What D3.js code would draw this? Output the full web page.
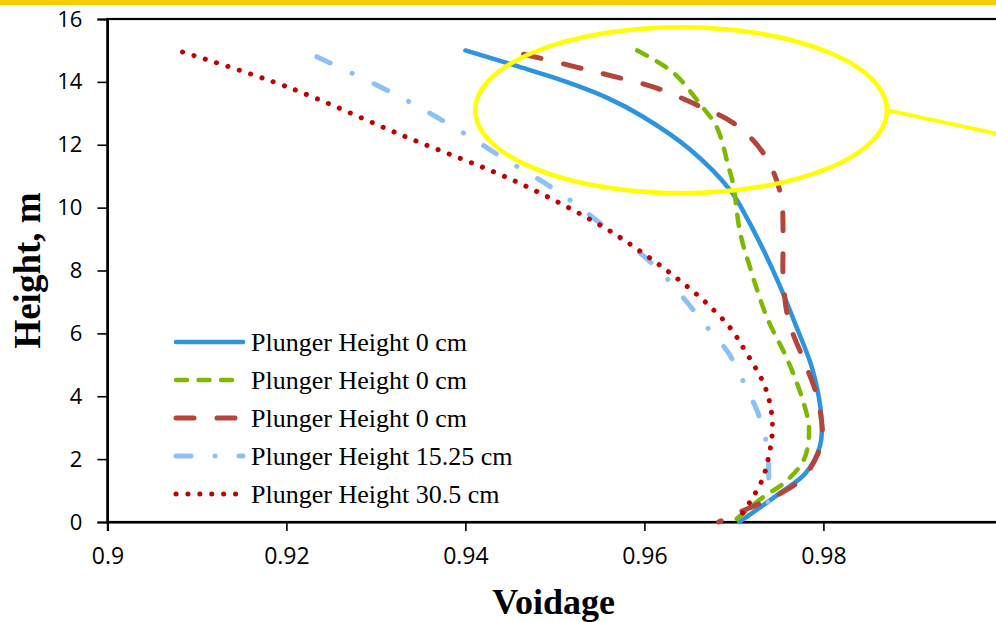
<!DOCTYPE html>
<html>
<head>
<meta charset="utf-8">
<script src="https://cdn.jsdelivr.net/npm/d3@7"></script>
<style>
  html, body { margin: 0; padding: 0; background: #fff; overflow: hidden; }
  svg { display: block; }
</style>
</head>
<body>
<svg id="chart" width="996" height="622"></svg>
<script>
// Voidage profiles along the column height, one series per plunger setting
const seriesNames = [
  "Plunger Height 0 cm",
  "Plunger Height 0 cm",
  "Plunger Height 0 cm",
  "Plunger Height 15.25 cm",
  "Plunger Height 30.5 cm"
];

// [voidage, height in m]
const blueSolid = [
  [0.9400, 15.0], [0.9458, 14.5], [0.9513, 14.0], [0.9558, 13.5], [0.9598, 12.9],
  [0.9651, 11.85], [0.9696, 10.55], [0.9714, 9.7], [0.9733, 8.65], [0.9750, 7.6],
  [0.9770, 6.2], [0.9788, 4.83], [0.9798, 3.25], [0.9796, 2.4], [0.9780, 1.55],
  [0.9751, 0.91], [0.9706, 0.0]
];
const greenDash = [
  [0.9592, 15.0], [0.9632, 14.3], [0.9662, 13.3], [0.9681, 12.55], [0.9694, 11.3],
  [0.9699, 10.77], [0.9707, 9.2], [0.9718, 8.1], [0.9737, 6.5], [0.9760, 5.15],
  [0.9778, 3.78], [0.9784, 2.93], [0.9778, 1.97], [0.9756, 1.24], [0.9733, 0.8],
  [0.9699, 0.0]
];
const brownLongDash = [
  [0.9465, 14.88], [0.9524, 14.47], [0.9569, 14.15], [0.9614, 13.8], [0.9659, 13.26],
  [0.9700, 12.68], [0.9733, 11.73], [0.9752, 10.46], [0.9755, 9.2], [0.9755, 7.8],
  [0.9761, 6.42], [0.9778, 5.15], [0.9793, 3.98], [0.9799, 2.83], [0.9797, 2.4],
  [0.9778, 1.43], [0.9745, 0.8], [0.9707, 0.32], [0.9683, 0.0]
];
const lightBlueDashDot = [
  [0.9234, 14.8], [0.9319, 13.64], [0.9383, 12.63], [0.9442, 11.58], [0.9506, 10.46],
  [0.9565, 9.19], [0.9595, 8.56], [0.9625, 7.75], [0.9670, 6.2], [0.9694, 5.37],
  [0.9715, 4.2], [0.9727, 3.46], [0.9737, 2.4], [0.9739, 1.34], [0.9737, 0.0]
];
const redDotted = [
  [0.9084, 14.95], [0.9201, 13.84], [0.9331, 12.28], [0.9458, 10.81], [0.9556, 9.35],
  [0.9603, 8.46], [0.9636, 7.76], [0.9668, 7.0], [0.9696, 6.17], [0.9712, 5.47],
  [0.9733, 4.42], [0.9741, 3.66], [0.9743, 2.89], [0.9739, 2.1], [0.9732, 1.37],
  [0.9718, 0.64], [0.9703, 0.0]
];

const xTicks = [0.9, 0.92, 0.94, 0.96, 0.98, 1];
const yTicks = [0, 2, 4, 6, 8, 10, 12, 14, 16];

// Highlight ellipse around the top of the column, in data units, plus its callout line
const highlightCenter = [0.9641, 13.1];
const highlightRadii = [0.0230, 2.64];
const calloutLine = [[0.9871, 13.1], [1.006, 11.95]];

const styles = [
  { color: "#2D94DD", width: 4.5, dash: null },
  { color: "#7CB900", width: 4.5, dash: "11,11.5" },
  { color: "#B3453A", width: 5, dash: "18,23" },
  { color: "#8DC0F7", width: 5, dash: "15,24,0.1,24" },
  { color: "#C00000", width: 5, dash: "0.1,11.8" }
];
const seriesData = [blueSolid, greenDash, brownLongDash, lightBlueDashDot, redDotted];

const svg = d3.select("#chart");
const W = 996, H = 622;
const plot = { left: 107.4, right: 1002.4, top: 19, bottom: 522 };

const x = d3.scaleLinear().domain([0.9, 1.0]).range([plot.left, plot.right]);
const y = d3.scaleLinear().domain([0, 16]).range([plot.bottom, plot.top]);

// top accent band
svg.append("rect").attr("x", 0).attr("y", 0).attr("width", W).attr("height", 5)
  .attr("fill", "#FFCC00");

// plot frame
svg.append("rect")
  .attr("x", plot.left).attr("y", plot.top)
  .attr("width", plot.right - plot.left).attr("height", plot.bottom - plot.top)
  .attr("fill", "none").attr("stroke", "#000").attr("stroke-width", 2.2);

const tickFont = "'Open Sans', 'Liberation Sans', sans-serif";

// axes
const xAxis = d3.axisBottom(x).tickValues(xTicks).tickSize(9).tickPadding(17)
  .tickFormat(d => d3.format("")(+d.toFixed(2)));
const gx = svg.append("g").attr("transform", `translate(0,${plot.bottom})`).call(xAxis);
gx.select(".domain").attr("stroke", "#000").attr("stroke-width", 2.2);
gx.selectAll(".tick line").attr("stroke", "#000").attr("stroke-width", 1.6);
gx.selectAll(".tick text").attr("font-family", tickFont).attr("font-size", 23).attr("fill", "#000");

const yAxis = d3.axisLeft(y).tickValues(yTicks).tickSize(10).tickPadding(15);
const gy = svg.append("g").attr("transform", `translate(${plot.left},0)`).call(yAxis);
gy.select(".domain").attr("stroke", "#000").attr("stroke-width", 2.2);
gy.selectAll(".tick line").attr("stroke", "#000").attr("stroke-width", 1.6);
gy.selectAll(".tick text").attr("font-family", tickFont).attr("font-size", 22).attr("fill", "#000");

// axis titles
svg.append("text")
  .attr("x", (plot.left + 1000) / 2).attr("y", 614)
  .attr("text-anchor", "middle")
  .attr("font-family", "'Liberation Serif', 'Times New Roman', serif")
  .attr("font-weight", "bold").attr("font-size", 36)
  .text("Voidage");

svg.append("text")
  .attr("transform", `translate(40,${(plot.top + plot.bottom) / 2}) rotate(-90)`)
  .attr("text-anchor", "middle")
  .attr("font-family", "'Liberation Serif', 'Times New Roman', serif")
  .attr("font-weight", "bold").attr("font-size", 37)
  .text("Height, m");

// series
const line = d3.line()
  .x(d => x(d[0])).y(d => y(d[1]))
  .curve(d3.curveCatmullRom.alpha(0.5));

const gSeries = svg.append("g");
seriesData.forEach((data, i) => {
  const s = styles[i];
  gSeries.append("path")
    .datum(data)
    .attr("d", line)
    .attr("fill", "none")
    .attr("stroke", s.color)
    .attr("stroke-width", s.width)
    .attr("stroke-linecap", "round")
    .attr("stroke-linejoin", "round")
    .attr("stroke-dasharray", s.dash);
});

// highlight ellipse + callout
svg.append("ellipse")
  .attr("cx", x(highlightCenter[0])).attr("cy", y(highlightCenter[1]))
  .attr("rx", x(highlightCenter[0] + highlightRadii[0]) - x(highlightCenter[0]))
  .attr("ry", y(highlightCenter[1]) - y(highlightCenter[1] + highlightRadii[1]))
  .attr("fill", "none").attr("stroke", "#FFFF00").attr("stroke-width", 4.5);

svg.append("path")
  .datum(calloutLine)
  .attr("d", d3.line().x(d => x(d[0])).y(d => y(d[1])))
  .attr("stroke", "#FFFF00").attr("stroke-width", 4).attr("fill", "none");

// legend
const legend = svg.append("g").attr("transform", "translate(176,342)");
seriesNames.forEach((name, i) => {
  const s = styles[i];
  const row = legend.append("g").attr("transform", `translate(0,${i * 38})`);
  row.append("line")
    .attr("x1", 0).attr("x2", 67).attr("y1", 0).attr("y2", 0)
    .attr("stroke", s.color).attr("stroke-width", s.width)
    .attr("stroke-linecap", "round")
    .attr("stroke-dasharray", s.dash);
  row.append("text")
    .attr("x", 75).attr("y", 9)
    .attr("font-family", "'Liberation Serif', 'Times New Roman', serif")
    .attr("font-size", 26)
    .attr("fill", "#000")
    .text(name);
});
</script>
</body>
</html>
